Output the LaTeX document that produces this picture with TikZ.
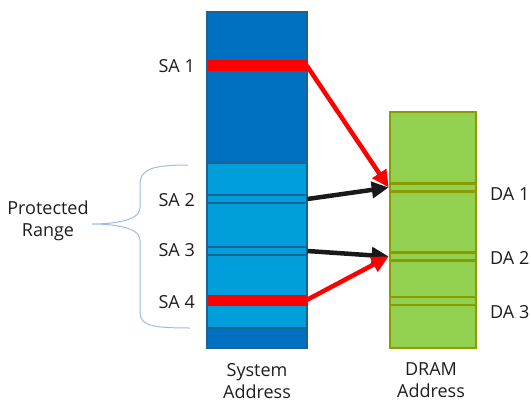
\documentclass[tikz,border=0pt]{standalone}
\usepackage{fontspec}
\setmainfont{Open Sans}
\usetikzlibrary{positioning, arrows.meta}

\definecolor{sysdark}{RGB}{0,112,192}
\definecolor{syslight}{RGB}{0,158,218}
\definecolor{sysedge}{RGB}{30,98,145}
\definecolor{dramfill}{RGB}{146,208,80}
\definecolor{dramedge}{RGB}{138,156,0}
\definecolor{bracecol}{RGB}{150,190,228}
\definecolor{txt}{RGB}{30,30,30}

\begin{document}
\begin{tikzpicture}[x=1pt, y=-1pt,
    font=\fontsize{18}{22}\selectfont,
    lbl/.style={text=txt, inner sep=0pt},
    sysband/.style={draw=sysedge, fill=syslight, line width=1.8pt, minimum width=99pt, minimum height=8pt, inner sep=0pt},
    redbar/.style={fill=red, minimum width=99pt, minimum height=11pt, inner sep=0pt},
    dramband/.style={draw=dramedge, fill=dramfill, line width=2.6pt, minimum width=86pt, minimum height=8pt, inner sep=0pt},
    redmap/.style={draw=red, line width=4.5pt, -{Triangle[length=17pt,width=16pt]}},
    blackmap/.style={draw=black!90, line width=4.5pt, -{Triangle[length=17pt,width=16pt]}}]
    \useasboundingbox (0,0) rectangle (531,405);

    % System address column
    \fill[syslight] (207,163) rectangle (307,328);
    \fill[sysdark] (207,12) rectangle (307,163);
    \fill[sysdark] (207,328) rectangle (307,348);
    \draw[sysedge, line width=1.8pt] (207,163) -- (307,163);
    \draw[sysedge, line width=1.8pt] (207,328) -- (307,328);
    \draw[sysedge, line width=1.4pt] (207,12) rectangle (307,348);
    \node[redbar] (sa1) at (257,65.5) {};
    \node[sysband] (sa2) at (257,199) {};
    \node[sysband] (sa3) at (257,251) {};
    \node[redbar] (sa4) at (257,300) {};

    % DRAM column
    \draw[dramedge, fill=dramfill, line width=2.6pt] (390,112) rectangle (476,348);
    \node[dramband] (da1) at (433,187.5) {};
    \node[dramband] (da2) at (433,256.5) {};
    \node[dramband] (da3) at (433,301) {};

    % Labels
    \node[lbl, anchor=east] (sa1lbl) at (195,66) {SA 1};
    \node[lbl, anchor=east] (sa2lbl) at (195,200) {SA 2};
    \node[lbl, anchor=east] (sa3lbl) at (195,250) {SA 3};
    \node[lbl, anchor=east] (sa4lbl) at (195,302) {SA 4};
    \node[lbl, anchor=west] (da1lbl) at (490,194) {DA 1};
    \node[lbl, anchor=west] (da2lbl) at (490,258) {DA 2};
    \node[lbl, anchor=west] (da3lbl) at (490,312) {DA 3};
    \node[lbl, align=center] (prot) at (48,221) {Protected\\Range};
    \node[lbl, align=center, anchor=north] (syslbl) at (257,363) {System\\Address};
    \node[lbl, align=center, anchor=north] (dramlbl) at (431,362) {DRAM\\Address};

    % Brace
    \draw[bracecol, line width=1pt] (188,165) .. controls (150,165) and (140,170) .. (140,185) -- (140,208)
        .. controls (140,221) and (112,224) .. (92,224)
        .. controls (112,224) and (140,227) .. (140,240) -- (140,312)
        .. controls (140,325) and (150,328) .. (190,328);

    % Mappings
    \draw[redmap] (sa1.east) -- (da1.west);
    \draw[blackmap] (sa2.east) -- (da1.west);
    \draw[blackmap] (sa3.east) -- (da2.west);
    \draw[redmap] (sa4.east) -- (da2.west);
\end{tikzpicture}
\end{document}
